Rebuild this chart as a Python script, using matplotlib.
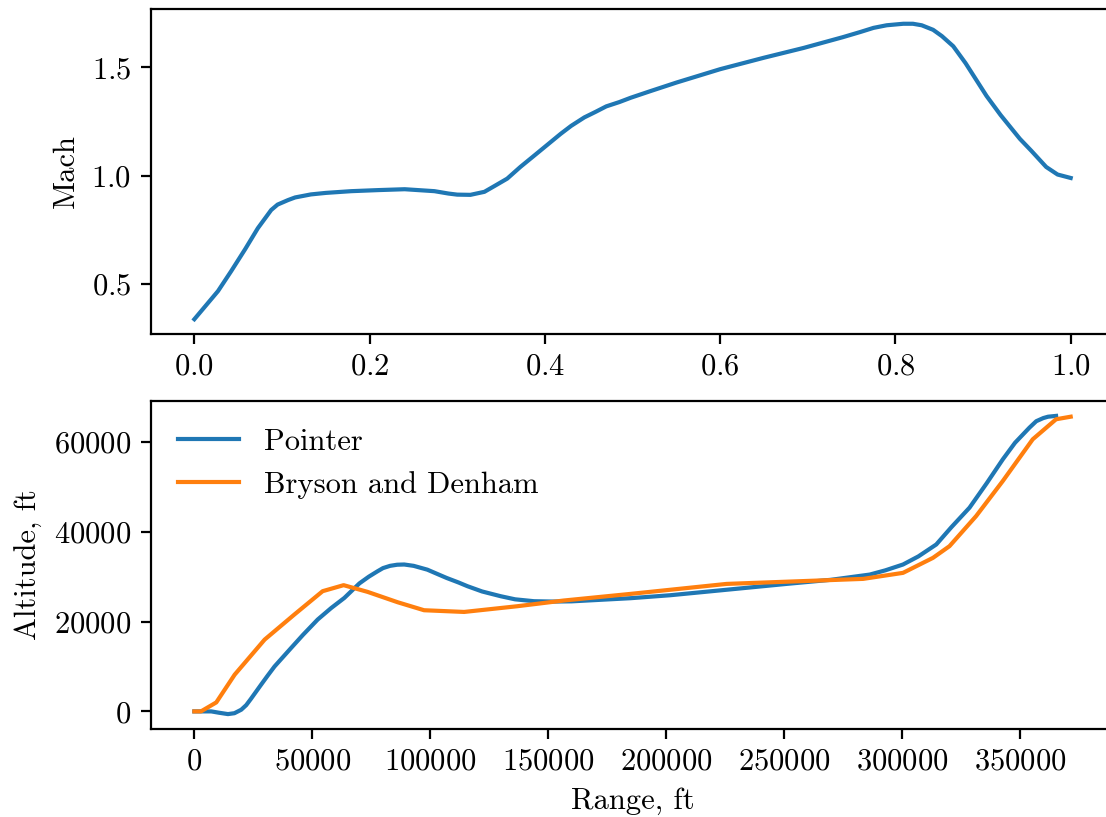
import matplotlib
matplotlib.use("Agg")
import matplotlib.pyplot as plt

plt.rcParams['font.family'] = 'cmr10'
plt.rcParams['mathtext.fontset'] = 'cm'
plt.rcParams['axes.formatter.use_mathtext'] = True
plt.rcParams['font.size'] = 11

# Mach number vs normalized time
t_norm = [0.0, 0.027, 0.042, 0.058, 0.0725, 0.0877, 0.095, 0.107, 0.115, 0.133,
          0.15, 0.179, 0.21, 0.240, 0.274, 0.29, 0.300, 0.315, 0.331, 0.343,
          0.357, 0.372, 0.388, 0.403, 0.418, 0.43, 0.445, 0.458, 0.47, 0.485,
          0.498, 0.52, 0.55, 0.600, 0.65, 0.695, 0.74, 0.76, 0.775, 0.79,
          0.809, 0.82, 0.830, 0.843, 0.853, 0.866, 0.88, 0.904, 0.92, 0.942,
          0.955, 0.972, 0.985, 1.0]
mach = [0.336, 0.466, 0.558, 0.66, 0.757, 0.841, 0.866, 0.887, 0.899, 0.913,
        0.920, 0.928, 0.933, 0.937, 0.928, 0.917, 0.912, 0.911, 0.925, 0.953,
        0.986, 1.04, 1.093, 1.143, 1.193, 1.23, 1.269, 1.295, 1.32, 1.34,
        1.36, 1.39, 1.43, 1.492, 1.545, 1.59, 1.64, 1.664, 1.683, 1.695,
        1.702, 1.702, 1.695, 1.674, 1.645, 1.598, 1.52, 1.368, 1.28, 1.170,
        1.115, 1.040, 1.005, 0.989]

# altitude profiles
pointer_range = [0, 7200, 10500, 14250, 17000, 19900, 22000, 24000, 28300, 31000,
                 34000, 41000, 46000, 52300, 58000, 63600, 70000, 74000, 77700,
                 80000, 83000, 86000, 89000, 93000, 98800, 103000, 107000, 112000,
                 115800, 122000, 129900, 136000, 144000, 152000, 160000, 185000,
                 201800, 230000, 251100, 270000, 286400, 293000, 300500, 307000,
                 314600, 321000, 328700, 336000, 342800, 348000, 354100, 357000,
                 360000, 362000, 365400]
pointer_alt = [0, 0, -300, -600, -400, 380, 1400, 2800, 5950, 7900,
               10000, 14100, 17000, 20450, 23000, 25260, 28500, 30000, 31200,
               31900, 32400, 32650, 32700, 32400, 31550, 30600, 29700, 28700,
               27870, 26700, 25640, 24950, 24530, 24450, 24500, 25200,
               25860, 27300, 28380, 29300, 30460, 31400, 32700, 34500,
               37160, 41000, 45350, 50800, 56100, 59800, 63160, 64600,
               65300, 65600, 65780]

bd_range = [0, 2800, 9300, 17100, 29800, 42400, 54400, 63300, 73500, 86200,
            97400, 114400, 136900, 156600, 184800, 225700, 283600, 300500,
            313200, 320200, 331500, 342800, 355500, 365400, 371600]
bd_alt = [0, 0, 2000, 8180, 15980, 21560, 26760, 28100, 26600, 24300,
          22520, 22140, 23410, 24680, 26150, 28380, 29500, 30840,
          34180, 36780, 43480, 51280, 60570, 65030, 65600]

fig = plt.figure(figsize=(5.53, 4.085), dpi=200)
ax1 = fig.add_axes([0.1361, 0.5912, 0.8716, 0.3978])
ax2 = fig.add_axes([0.1361, 0.1077, 0.8716, 0.4015])

ax1.plot(t_norm, mach, lw=1.5)
ax1.set_ylabel("Mach")

ax2.plot(pointer_range, pointer_alt, lw=1.5, label="Pointer")
ax2.plot(bd_range, bd_alt, lw=1.5, label="Bryson and Denham")
ax2.set_xlabel("Range, ft")
ax2.set_ylabel("Altitude, ft")
ax2.legend(loc="upper left", frameon=False)

fig.savefig("out.png", dpi=200)
